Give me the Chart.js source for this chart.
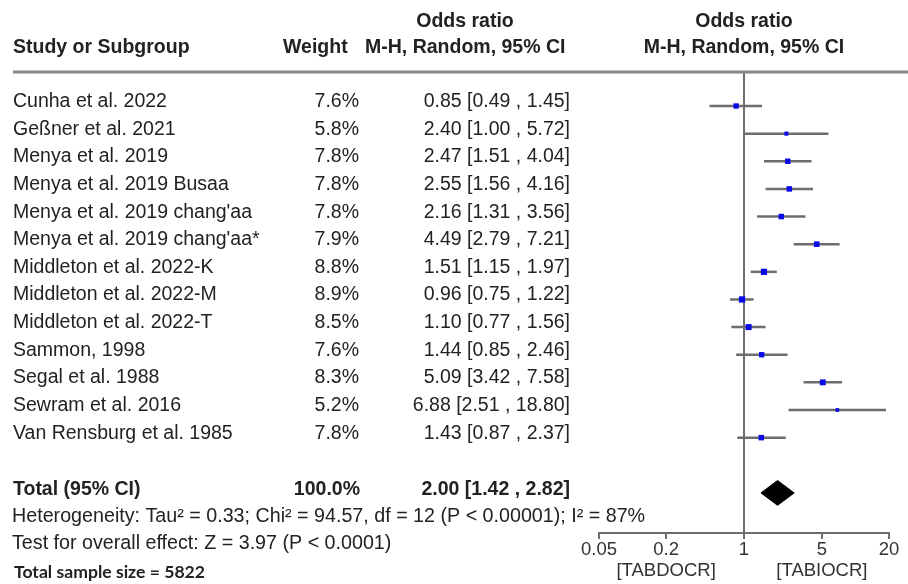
<!DOCTYPE html>
<html>
<head>
<meta charset="utf-8">
<script src="https://cdn.jsdelivr.net/npm/chart.js@4.4.1/dist/chart.umd.min.js"></script>
<style>
  html, body { margin: 0; padding: 0; background: #ffffff; }
  #wrap { width: 908px; height: 584px; position: relative; }
</style>
</head>
<body>
<div id="wrap"><canvas id="forest" width="908" height="584"></canvas></div>
<script>
// Studies, weights and odds ratios (M-H, random effects, 95% CI)
const studies = [
  "Cunha et al. 2022",
  "Geßner et al. 2021",
  "Menya et al. 2019",
  "Menya et al. 2019 Busaa",
  "Menya et al. 2019 chang'aa",
  "Menya et al. 2019 chang'aa*",
  "Middleton et al. 2022-K",
  "Middleton et al. 2022-M",
  "Middleton et al. 2022-T",
  "Sammon, 1998",
  "Segal et al. 1988",
  "Sewram et al. 2016",
  "Van Rensburg et al. 1985"
];
const weights    = [7.6, 5.8, 7.8, 7.8, 7.8, 7.9, 8.8, 8.9, 8.5, 7.6, 8.3, 5.2, 7.8];
const oddsRatios = [0.85, 2.40, 2.47, 2.55, 2.16, 4.49, 1.51, 0.96, 1.10, 1.44, 5.09, 6.88, 1.43];
const ciLower    = [0.49, 1.00, 1.51, 1.56, 1.31, 2.79, 1.15, 0.75, 0.77, 0.85, 3.42, 2.51, 0.87];
const ciUpper    = [1.45, 5.72, 4.04, 4.16, 3.56, 7.21, 1.97, 1.22, 1.56, 2.46, 7.58, 18.80, 2.37];

// Pooled estimate
const totalLabel  = "Total (95% CI)";
const totalWeight = 100.0;
const totalOR     = 2.00;
const totalLower  = 1.42;
const totalUpper  = 2.82;

const heterogeneityText = "Heterogeneity: Tau\u00B2 = 0.33; Chi\u00B2 = 94.57, df = 12 (P < 0.00001); I\u00B2 = 87%";
const overallEffectText = "Test for overall effect: Z = 3.97 (P < 0.0001)";
const sampleSizeText    = "Total sample size = 5822";

// Axis
const axisTicks    = [0.05, 0.2, 1, 5, 20];
const favourLabels = ["[TABDOCR]", "[TABIOCR]"];
const favourAt     = [0.2, 5];

const totalRow = studies.length + 1;

const FONT = "'Liberation Sans', Arial, sans-serif";
const TEXT = "#222222";
const GREY = "#6e6e6e";

const fmt2 = v => v.toFixed(2);
const ciText = (m, lo, hi) => fmt2(m) + " [" + fmt2(lo) + " , " + fmt2(hi) + "]";

// CI whiskers, one short line per study
const ciSets = studies.map((s, i) => ({
  type: 'line',
  label: s,
  data: [{ x: ciLower[i], y: i }, { x: ciUpper[i], y: i }],
  borderColor: GREY,
  borderWidth: 2.5,
  pointRadius: 0,
  fill: false,
  tension: 0,
  order: 2
}));

// Study estimates: squares sized by weight
const pointSet = {
  type: 'scatter',
  label: 'OR',
  data: oddsRatios.map((v, i) => ({ x: v, y: i })),
  pointStyle: 'rect',
  pointRadius: weights.map(w => w * 0.5),
  backgroundColor: '#0a0ae8',
  borderColor: '#0a0ae8',
  borderWidth: 0,
  showLine: false,
  order: 1
};

// Pooled estimate diamond
const diamondHalf = 0.45;
const diamondSet = {
  type: 'line',
  label: 'Total',
  data: [
    { x: totalLower, y: totalRow },
    { x: totalOR, y: totalRow - diamondHalf },
    { x: totalUpper, y: totalRow },
    { x: totalOR, y: totalRow + diamondHalf },
    { x: totalLower, y: totalRow }
  ],
  borderColor: '#000000',
  backgroundColor: '#000000',
  borderWidth: 1,
  pointRadius: 0,
  tension: 0,
  fill: 'shape',
  order: 1
};

// Table text, header rule and favour labels
const tablePlugin = {
  id: 'forestTable',
  afterDraw(chart) {
    const ctx = chart.ctx;
    const ys = chart.scales.y;
    const xs = chart.scales.x;
    const top = chart.chartArea.top;
    const rowY = r => ys.getPixelForValue(r) - 4.4;
    const nullX = xs.getPixelForValue(1);

    ctx.save();
    // header rule
    ctx.strokeStyle = '#858585';
    ctx.lineWidth = 3;
    ctx.beginPath();
    ctx.moveTo(13, top);
    ctx.lineTo(908, top);
    ctx.stroke();

    ctx.fillStyle = TEXT;
    ctx.textBaseline = 'middle';

    // headers
    ctx.font = "bold 19.5px " + FONT;
    ctx.textAlign = 'center';
    ctx.fillText("Odds ratio", 465, top - 50);
    ctx.fillText("Odds ratio", nullX, top - 50);
    ctx.fillText("M-H, Random, 95% CI", nullX, top - 24);
    ctx.textAlign = 'left';
    ctx.fillText("Study or Subgroup", 13, top - 24);
    ctx.fillText("Weight", 283, top - 24);
    ctx.fillText("M-H, Random, 95% CI", 365, top - 24);

    // study rows
    ctx.font = "19.5px " + FONT;
    studies.forEach((s, i) => {
      const y = rowY(i);
      ctx.textAlign = 'left';
      ctx.fillText(s, 13, y);
      ctx.textAlign = 'right';
      ctx.fillText(weights[i].toFixed(1) + "%", 359, y);
      ctx.fillText(ciText(oddsRatios[i], ciLower[i], ciUpper[i]), 570, y);
    });

    // total row
    ctx.font = "bold 19.5px " + FONT;
    const ty = rowY(totalRow) + 1.5;
    ctx.textAlign = 'left';
    ctx.fillText(totalLabel, 13, ty);
    ctx.textAlign = 'right';
    ctx.fillText(totalWeight.toFixed(1) + "%", 360, ty);
    ctx.fillText(ciText(totalOR, totalLower, totalUpper), 570, ty);

    // statistics
    ctx.font = "19.7px " + FONT;
    ctx.textAlign = 'left';
    ctx.fillText(heterogeneityText, 12, rowY(totalRow + 1) + 0.5);
    ctx.fillText(overallEffectText, 12, rowY(totalRow + 2.0));

    ctx.font = "bold 17.6px Lato, 'Open Sans', sans-serif";
    ctx.fillText(sampleSizeText, 14, rowY(totalRow + 3.02));

    // favour labels under the axis
    ctx.font = "18.5px " + FONT;
    ctx.fillStyle = '#333333';
    ctx.textAlign = 'center';
    favourLabels.forEach((t, k) => {
      ctx.fillText(t, xs.getPixelForValue(favourAt[k]), 571);
    });
    ctx.restore();
  }
};

new Chart(document.getElementById('forest'), {
  type: 'line',
  data: { datasets: [...ciSets, pointSet, diamondSet] },
  options: {
    responsive: false,
    animation: false,
    events: [],
    layout: { padding: { left: 599, right: 19, top: 72, bottom: 0 } },
    plugins: { legend: { display: false }, tooltip: { enabled: false } },
    scales: {
      x: {
        type: 'logarithmic',
        position: 'bottom',
        min: 0.05,
        max: 20,
        afterBuildTicks: s => { s.ticks = axisTicks.map(v => ({ value: v })); },
        afterFit: s => { s.height = 51; },
        ticks: {
          callback: v => String(v),
          autoSkip: false,
          maxRotation: 0,
          padding: 0,
          color: '#333333',
          font: { family: FONT, size: 18.5 }
        },
        grid: {
          drawOnChartArea: true,
          color: c => (c.tick && c.tick.value === 1) ? GREY : 'rgba(0,0,0,0)',
          lineWidth: 2,
          tickLength: 6,
          tickColor: GREY,
          tickWidth: 2
        },
        border: { display: true, color: GREY, width: 2 }
      },
      y: {
        type: 'linear',
        display: false,
        reverse: true,
        min: -1.23,
        max: 15.45
      }
    }
  },
  plugins: [tablePlugin]
});
</script>
</body>
</html>
